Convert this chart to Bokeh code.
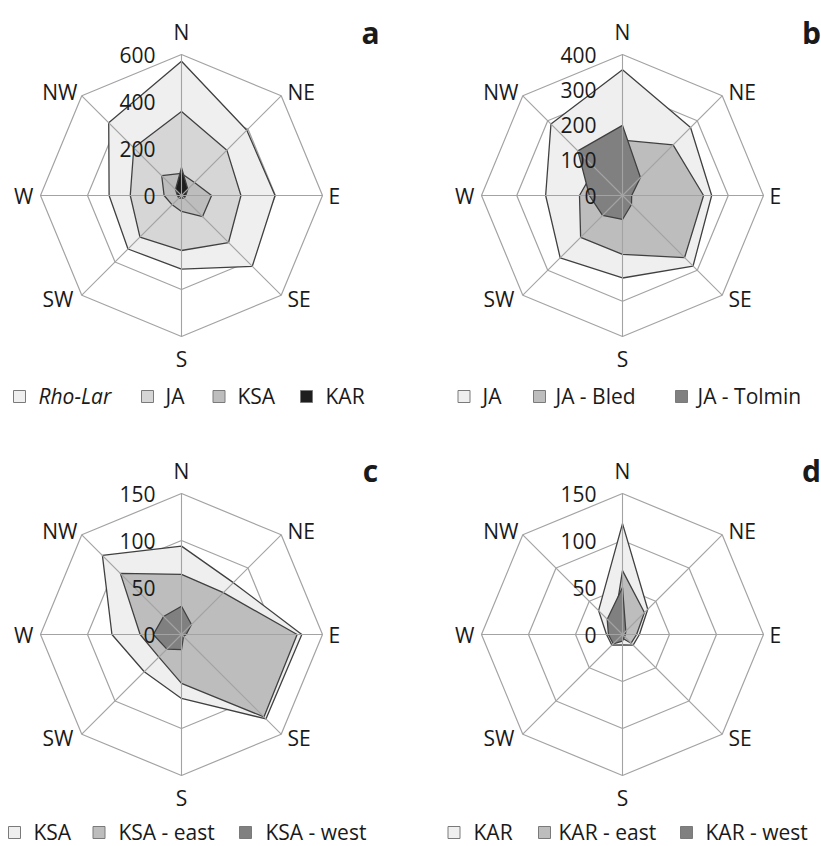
import math
from bokeh.plotting import figure
from bokeh.models import Range1d
from bokeh.core.properties import value
from bokeh.embed import file_html
from bokeh.resources import INLINE

# ---------------- data ----------------
directions = ["N", "NE", "E", "SE", "S", "SW", "W", "NW"]

rho_lar = [571, 393, 398, 426, 313, 322, 308, 438]
ja = [357, 273, 253, 283, 234, 250, 218, 287]
ksa = [94, 78, 128, 127, 68, 56, 74, 119]
kar = [118, 38, 18, 16, 11, 16, 17, 36]

ja_bled = [157, 203, 230, 249, 167, 168, 122, 110]
ja_tolmin = [199, 72, 26, 36, 68, 80, 94, 179]

ksa_east = [64, 63, 123, 124, 52, 34, 44, 92]
ksa_west = [30, 15, 5, 3, 16, 22, 30, 27]

kar_east = [68, 33, 15, 13, 4, 2, 2, 13]
kar_west = [50, 5, 3, 3, 7, 14, 15, 23]

ticks_a = [0, 200, 400, 600]
ticks_b = [0, 100, 200, 300, 400]
ticks_c = [0, 50, 100, 150]
ticks_d = [0, 50, 100, 150]

names_a = ["Rho-Lar", "JA", "KSA", "KAR"]
names_b = ["JA", "JA - Bled", "JA - Tolmin"]
names_c = ["KSA", "KSA - east", "KSA - west"]
names_d = ["KAR", "KAR - east", "KAR - west"]

# ---------------- styling ----------------
FONT = value("Open Sans")
TXT = "#1a1a1a"
LIGHT = "#efefef"
LIGHT2 = "#d6d6d6"
MID = "#bdbdbd"
DARK = "#808080"
BLACK = "#1e1e1e"
OUTLINE = "#404040"
GRID = "#a3a3a3"
R = 141
FS = "21px"

p = figure(width=821, height=846, output_backend="svg", toolbar_location=None,
           x_range=Range1d(0, 821), y_range=Range1d(846, 0))
p.xaxis.visible = False
p.yaxis.visible = False
p.grid.visible = False
p.outline_line_color = None
p.min_border = 0
p.min_border_left = p.min_border_right = p.min_border_top = p.min_border_bottom = 0
p.background_fill_color = "white"
p.border_fill_color = "white"

angles = [k * math.pi / 4 for k in range(8)]

# label offsets relative to center: (dx, dy, align)
label_pos = [(0, -164, "center"), (106, -104, "left"), (147, 0, "left"), (106, 103, "left"),
             (0, 163, "center"), (-108, 103, "right"), (-148, 0, "right"), (-104, -104, "right")]


def radar(cx, cy, vmax, ticks, series, fills):
    s = R / vmax
    # rings
    for t in ticks[1:]:
        xs = [cx + t * s * math.sin(a) for a in angles]
        ys = [cy - t * s * math.cos(a) for a in angles]
        xs.append(xs[0])
        ys.append(ys[0])
        p.line(xs, ys, line_color=GRID, line_width=1.2)
    # series polygons
    for vals, fc in zip(series, fills):
        xs = [cx + v * s * math.sin(a) for v, a in zip(vals, angles)]
        ys = [cy - v * s * math.cos(a) for v, a in zip(vals, angles)]
        p.patch(xs, ys, fill_color=fc, line_color=OUTLINE, line_width=1.3)
    # spokes
    vmax_t = ticks[-1]
    p.segment(x0=[cx] * 8, y0=[cy] * 8,
              x1=[cx + vmax_t * s * math.sin(a) for a in angles],
              y1=[cy - vmax_t * s * math.cos(a) for a in angles],
              line_color=GRID, line_width=1.1)
    # tick labels
    p.text(x=[cx - 26] * len(ticks), y=[cy - t * s for t in ticks], text=[str(t) for t in ticks],
           text_align="right", text_baseline="middle", text_font=FONT,
           text_font_size=FS, text_color=TXT)
    # direction labels
    for d, (dx, dy, al) in zip(directions, label_pos):
        p.text(x=[cx + dx], y=[cy + dy], text=[d], text_align=al, text_baseline="middle",
               text_font=FONT, text_font_size=FS, text_color=TXT)


def legend(y, items):
    for name, fc, bx, tx, style in items:
        p.rect(x=[bx], y=[y + 1], width=12, height=12, fill_color=fc, line_color="#7a7a7a",
               line_width=1)
        p.text(x=[tx], y=[y], text=[name], text_align="left", text_baseline="middle",
               text_font=FONT, text_font_size=FS, text_font_style=style,
               text_color=TXT)


def letter(x, y, t):
    p.text(x=[x], y=[y], text=[t], text_align="center", text_baseline="alphabetic",
           text_font=FONT, text_font_size="30px", text_font_style="bold", text_color=TXT)


# panel a
radar(181, 195, ticks_a[-1], ticks_a, [rho_lar, ja, ksa, kar], [LIGHT, LIGHT2, MID, BLACK])
legend(395, [(names_a[0], LIGHT, 19, 38, "italic"), (names_a[1], LIGHT2, 147, 165, "normal"),
             (names_a[2], MID, 218.5, 237, "normal"), (names_a[3], BLACK, 306, 325, "normal")])
letter(370, 32, "a")

# panel b
radar(622, 195, ticks_b[-1], ticks_b, [ja, ja_bled, ja_tolmin], [LIGHT, MID, DARK])
legend(395, [(names_b[0], LIGHT, 463.5, 482, "normal"), (names_b[1], MID, 539, 555, "normal"),
             (names_b[2], DARK, 681, 697, "normal")])
letter(811, 32, "b")

# panel c
radar(181, 634, ticks_c[-1], ticks_c, [ksa, ksa_east, ksa_west], [LIGHT, MID, DARK])
legend(831, [(names_c[0], LIGHT, 14, 33, "normal"), (names_c[1], MID, 98.5, 118, "normal"),
             (names_c[2], DARK, 245, 265, "normal")])
letter(370, 470, "c")

# panel d
radar(622, 634, ticks_d[-1], ticks_d, [kar, kar_east, kar_west], [LIGHT, MID, DARK])
legend(831, [(names_d[0], LIGHT, 453.5, 473, "normal"), (names_d[1], MID, 544, 558, "normal"),
             (names_d[2], DARK, 686, 705, "normal")])
letter(811, 470, "d")

open("out.html", "w").write(file_html(p, INLINE))
